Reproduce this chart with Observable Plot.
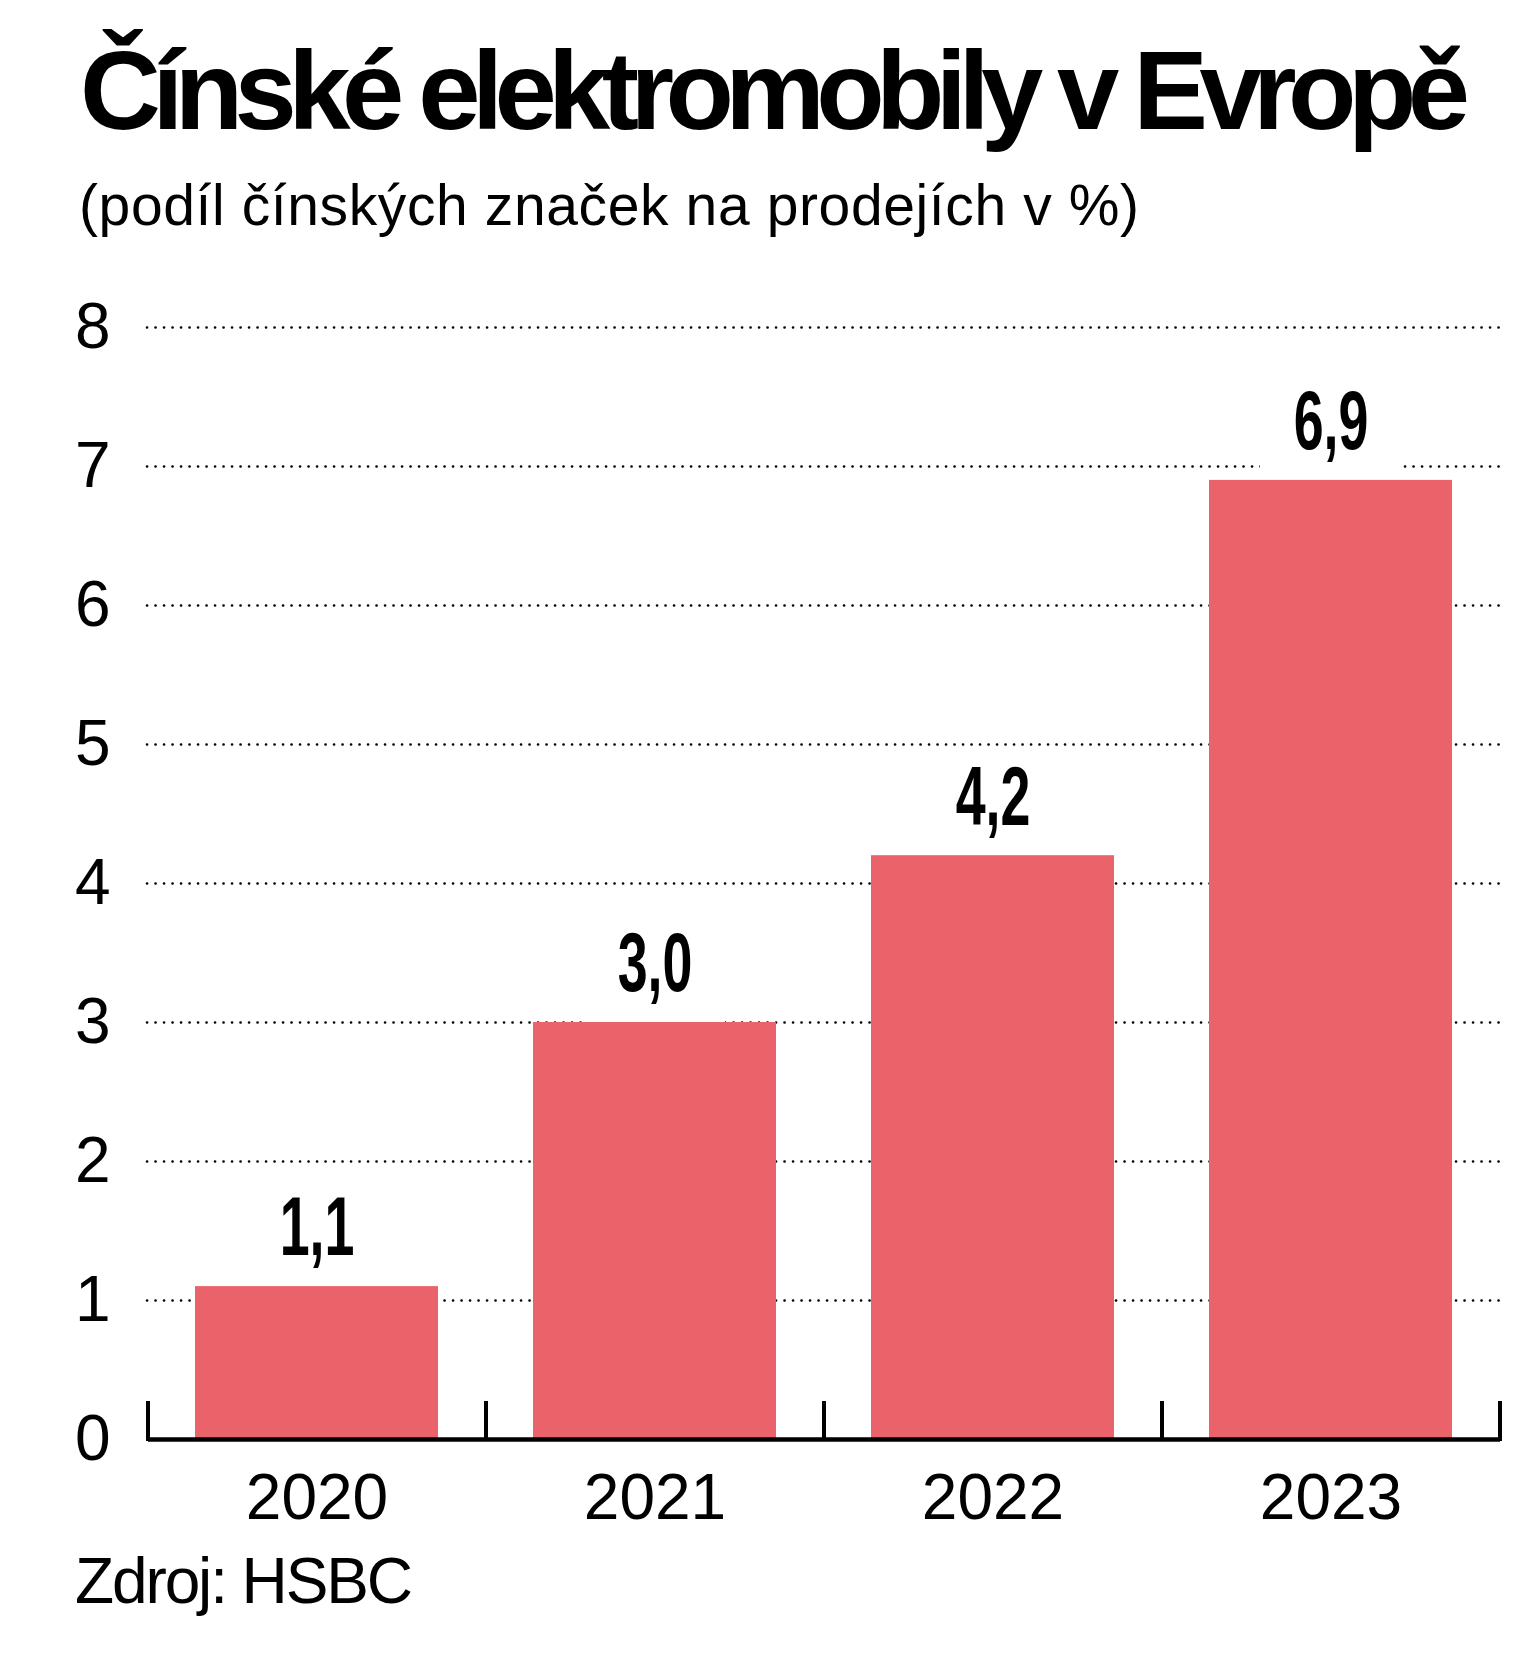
<!DOCTYPE html>
<html><head><meta charset="utf-8">
<script src="https://cdn.jsdelivr.net/npm/d3@7"></script>
<script src="https://cdn.jsdelivr.net/npm/@observablehq/plot@0.6"></script>
<style>
html,body{margin:0;padding:0;background:#fff;}
body{width:1536px;height:1670px;position:relative;overflow:hidden;font-family:"Liberation Sans",Arial,sans-serif;color:#000;}
.t{position:absolute;left:80px;line-height:1;white-space:nowrap;display:inline-block;}
#title{top:35px;font-size:112px;font-weight:700;}
#subtitle{top:177px;left:79px;font-size:57px;}
#caption{top:1549px;left:75px;font-size:64px;}
#chart{position:absolute;left:0;top:250px;}
</style></head><body>
<div id="title" class="t">Čínské elektromobily v Evropě</div>
<div id="subtitle" class="t">(podíl čínských značek na prodejích v %)</div>
<div id="chart"></div>
<div id="caption" class="t">Zdroj: HSBC</div>
<script>
const years = ["2020", "2021", "2022", "2023"];
const shares = [1.1, 3.0, 4.2, 6.9];
const shareLabels = ["1,1", "3,0", "4,2", "6,9"];
const yTicks = [0, 1, 2, 3, 4, 5, 6, 7, 8];

const data = years.map((year, i) => ({year, share: shares[i], label: shareLabels[i]}));

function fit(id, target) {
  const el = document.getElementById(id);
  const n = el.textContent.length;
  const w = el.getBoundingClientRect().width;
  el.style.letterSpacing = ((target - w) / (n - 1)) + "px";
}
fit("title", 1390);
fit("subtitle", 1060);
fit("caption", 338);

const W = 1536, H = 1290, mL = 148, mR = 36, mT = 77, mB = 101;
const step = (W - mL - mR) / years.length;
const tickLen = 38;

const plot = Plot.plot({
  width: W, height: H,
  marginLeft: mL, marginRight: mR, marginTop: mT, marginBottom: mB,
  style: {fontFamily: "Liberation Sans, Arial, sans-serif", fontSize: "64px", color: "#000", background: "#fff", overflow: "visible"},
  x: {domain: years, paddingInner: 0.28, paddingOuter: 0.14, label: null, tickSize: 0, tickPadding: 34},
  y: {domain: [0, 8], ticks: yTicks, label: null, tickSize: 0, tickPadding: 38},
  marks: [
    Plot.ruleY(yTicks.filter(d => d > 0), {stroke: "#000", strokeWidth: 2.6, strokeDasharray: "0.1,8.4", strokeLinecap: "round", insetLeft: -1, insetRight: -2}),
    Plot.barY(data, {x: "year", y1: "share", y2: "share", fill: "#fff", insetTop: -100, insetLeft: 51, insetRight: 51}),
    Plot.barY(data, {x: "year", y: "share", fill: "#ea636b"}),
    Plot.ruleY([0], {stroke: "#000", strokeWidth: 4.5}),
    Plot.ruleX(years, {x: d => d, dx: -step / 2, stroke: "#000", strokeWidth: 4, insetTop: H - mT - mB - tickLen, insetBottom: -2}),
    Plot.ruleX(years.slice(-1), {x: d => d, dx: step / 2, stroke: "#000", strokeWidth: 4, insetTop: H - mT - mB - tickLen, insetBottom: -2}),
    Plot.text(data, {x: "year", y: "share", text: "label", dy: -58, fontSize: 84, fontWeight: 700, fill: "#000"})
  ]
});

plot.querySelectorAll('g[aria-label="text"] text').forEach(t => {
  const tr = t.getAttribute("transform");
  if (tr) t.setAttribute("transform", tr + " scale(0.64,1)");
  else {
    const x = t.getAttribute("x") || 0, y = t.getAttribute("y") || 0;
    t.removeAttribute("x"); t.removeAttribute("y");
    t.setAttribute("transform", `translate(${x},${y}) scale(0.64,1)`);
  }
});

document.getElementById("chart").appendChild(plot);
</script>
</body></html>
